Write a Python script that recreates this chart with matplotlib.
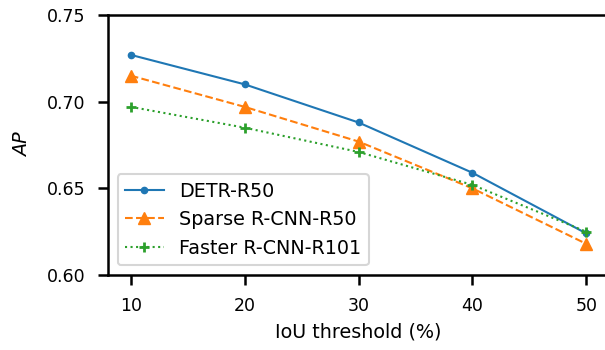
import matplotlib
matplotlib.use("Agg")
import matplotlib.pyplot as plt

iou = [10, 20, 30, 40, 50]
detr = [0.727, 0.710, 0.688, 0.659, 0.624]
sparse = [0.715, 0.697, 0.677, 0.650, 0.618]
faster = [0.697, 0.685, 0.671, 0.652, 0.625]
yticks = [0.60, 0.65, 0.70, 0.75]

fig = plt.figure(figsize=(6.05, 3.5), dpi=100)
ax = fig.add_axes([108/605, 75/350, 501/605, 260/350])

ax.plot(iou, detr, '-', marker='o', markersize=4.5, color='#1f77b4', label='DETR-R50', lw=1.5)
ax.plot(iou, sparse, '--', marker='^', markersize=9, color='#ff7f0e', label='Sparse R-CNN-R50', lw=1.5)
ax.plot(iou, faster, ':', marker='+', markersize=7, markeredgewidth=2, color='#2ca02c', label='Faster R-CNN-R101', lw=1.5)

ax.set_ylim(0.60, 0.75)
ax.set_yticks(yticks)
ax.set_xticks(iou)
ax.set_xlabel('IoU threshold (%)', fontsize=13.8, labelpad=5.5)
ax.set_ylabel('AP', style='italic', fontsize=13.8, labelpad=11)
for s in ax.spines.values():
    s.set_linewidth(1.8)
ax.tick_params(width=1.8, length=7.5, pad=8.5, labelsize=12.5)
leg = ax.legend(loc='lower left', fontsize=13.8, framealpha=0.8, borderaxespad=0.5)
leg.get_frame().set_linewidth(1.5)

fig.savefig('out.png', dpi=100)
